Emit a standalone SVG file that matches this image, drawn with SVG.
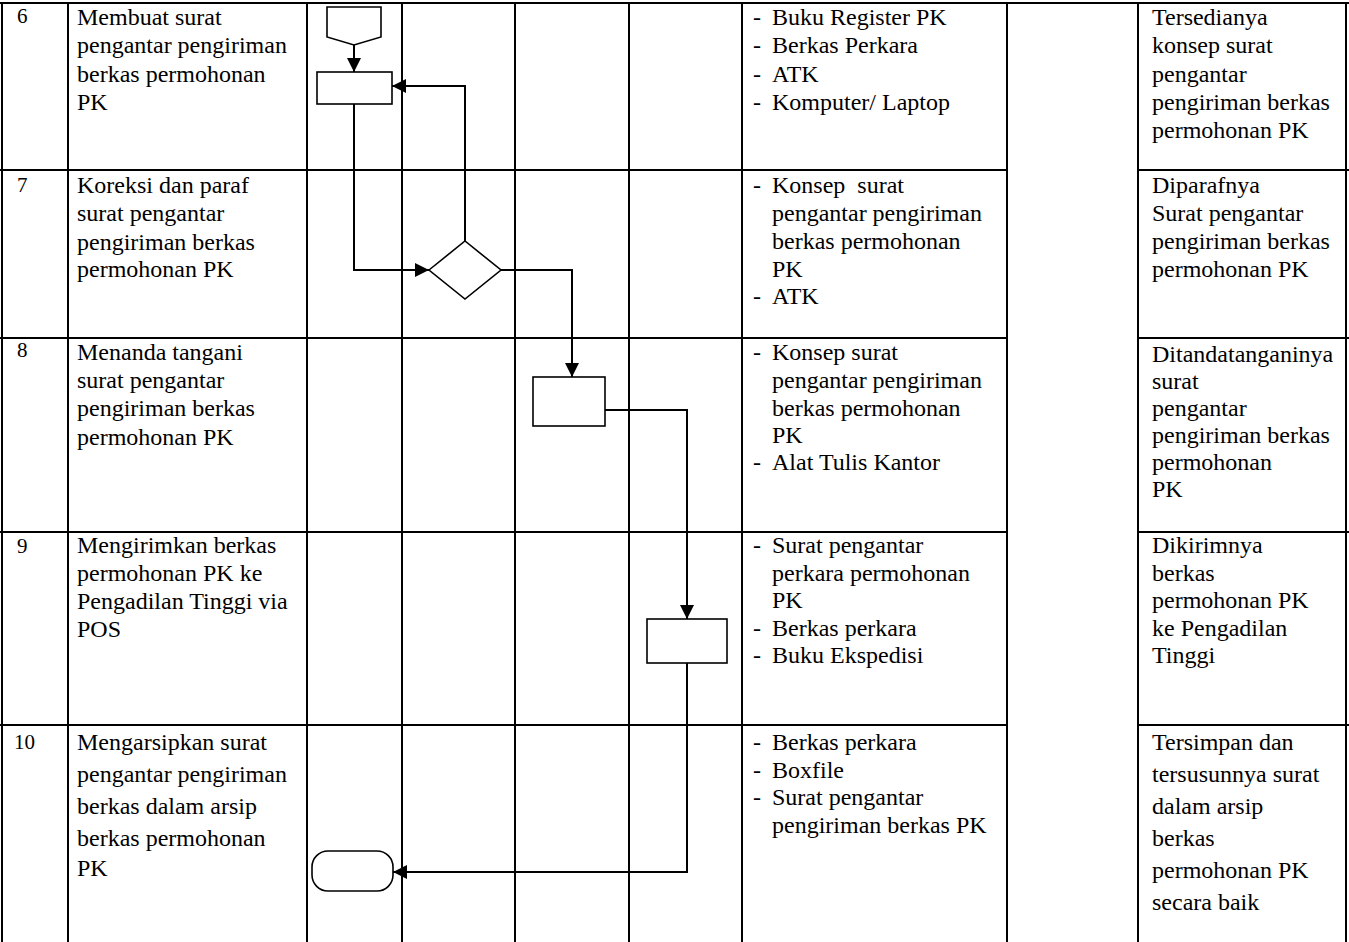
<svg xmlns="http://www.w3.org/2000/svg" width="1349" height="942" viewBox="0 0 1349 942">
<style>
.grid line{stroke:#000;stroke-width:2}
.shape{fill:#fff;stroke:#000;stroke-width:1.6}
.conn{fill:none;stroke:#000;stroke-width:2;marker-end:url(#ah)}
text{font-family:"Liberation Serif","Times New Roman",serif;font-size:24px;fill:#000}
text.num{font-size:21px}
</style>
<defs>
<marker id="ah" markerUnits="userSpaceOnUse" markerWidth="14" markerHeight="14" refX="14" refY="7" orient="auto"><path d="M0,0 L14,7 L0,14 z" fill="#000"/></marker>
</defs>
<rect x="0" y="0" width="1349" height="942" fill="#fff"/>
<g id="grid" class="grid">
<line x1="0" y1="3" x2="1349" y2="3"/>
<line x1="0" y1="170" x2="1007" y2="170"/><line x1="1138" y1="170" x2="1349" y2="170"/>
<line x1="0" y1="338" x2="1007" y2="338"/><line x1="1138" y1="338" x2="1349" y2="338"/>
<line x1="0" y1="532" x2="1007" y2="532"/><line x1="1138" y1="532" x2="1349" y2="532"/>
<line x1="0" y1="725" x2="1007" y2="725"/><line x1="1138" y1="725" x2="1349" y2="725"/>
<line x1="2" y1="2" x2="2" y2="942"/>
<line x1="68" y1="2" x2="68" y2="942"/>
<line x1="307" y1="2" x2="307" y2="942"/>
<line x1="402" y1="2" x2="402" y2="942"/>
<line x1="515" y1="2" x2="515" y2="942"/>
<line x1="629" y1="2" x2="629" y2="942"/>
<line x1="742" y1="2" x2="742" y2="942"/>
<line x1="1007" y1="2" x2="1007" y2="942"/>
<line x1="1138" y1="2" x2="1138" y2="942"/>
<line x1="1346" y1="2" x2="1346" y2="942"/>
</g>
<g id="row6">
<text class="num" x="17" y="23">6</text>
<text><tspan x="77" y="25">Membuat surat</tspan><tspan x="77" y="53.3">pengantar pengiriman</tspan><tspan x="77" y="81.6">berkas permohonan</tspan><tspan x="77" y="110">PK</tspan></text>
<text><tspan x="753" y="25">-</tspan><tspan x="772" y="25">Buku Register PK</tspan><tspan x="753" y="53.3">-</tspan><tspan x="772" y="53.3">Berkas Perkara</tspan><tspan x="753" y="81.6">-</tspan><tspan x="772" y="81.6">ATK</tspan><tspan x="753" y="110">-</tspan><tspan x="772" y="110">Komputer/ Laptop</tspan></text>
<text><tspan x="1152" y="25">Tersedianya</tspan><tspan x="1152" y="53.3">konsep surat</tspan><tspan x="1152" y="81.6">pengantar</tspan><tspan x="1152" y="110">pengiriman berkas</tspan><tspan x="1152" y="138.2">permohonan PK</tspan></text>
</g>
<g id="row7">
<text class="num" x="17" y="192">7</text>
<text><tspan x="77" y="193">Koreksi dan paraf</tspan><tspan x="77" y="221.3">surat pengantar</tspan><tspan x="77" y="249.6">pengiriman berkas</tspan><tspan x="77" y="277">permohonan PK</tspan></text>
<text><tspan x="753" y="193">-</tspan><tspan x="772" y="193">Konsep&#160; surat</tspan><tspan x="772" y="221">pengantar pengiriman</tspan><tspan x="772" y="249">berkas permohonan</tspan><tspan x="772" y="276.5">PK</tspan><tspan x="753" y="304">-</tspan><tspan x="772" y="304">ATK</tspan></text>
<text><tspan x="1152" y="193">Diparafnya</tspan><tspan x="1152" y="221">Surat pengantar</tspan><tspan x="1152" y="249">pengiriman berkas</tspan><tspan x="1152" y="277">permohonan PK</tspan></text>
</g>
<g id="row8">
<text class="num" x="17" y="357">8</text>
<text><tspan x="77" y="360">Menanda tangani</tspan><tspan x="77" y="388">surat pengantar</tspan><tspan x="77" y="416">pengiriman berkas</tspan><tspan x="77" y="444.5">permohonan PK</tspan></text>
<text><tspan x="753" y="360">-</tspan><tspan x="772" y="360">Konsep surat</tspan><tspan x="772" y="388">pengantar pengiriman</tspan><tspan x="772" y="415.5">berkas permohonan</tspan><tspan x="772" y="443">PK</tspan><tspan x="753" y="470">-</tspan><tspan x="772" y="470">Alat Tulis Kantor</tspan></text>
<text><tspan x="1152" y="362">Ditandatanganinya</tspan><tspan x="1152" y="389">surat</tspan><tspan x="1152" y="416">pengantar</tspan><tspan x="1152" y="443">pengiriman berkas</tspan><tspan x="1152" y="470">permohonan</tspan><tspan x="1152" y="497">PK</tspan></text>
</g>
<g id="row9">
<text class="num" x="17" y="553">9</text>
<text><tspan x="77" y="553">Mengirimkan berkas</tspan><tspan x="77" y="581">permohonan PK ke</tspan><tspan x="77" y="609">Pengadilan Tinggi via</tspan><tspan x="77" y="637">POS</tspan></text>
<text><tspan x="753" y="553">-</tspan><tspan x="772" y="553">Surat pengantar</tspan><tspan x="772" y="581">perkara permohonan</tspan><tspan x="772" y="608">PK</tspan><tspan x="753" y="636">-</tspan><tspan x="772" y="636">Berkas perkara</tspan><tspan x="753" y="663">-</tspan><tspan x="772" y="663">Buku Ekspedisi</tspan></text>
<text><tspan x="1152" y="553">Dikirimnya</tspan><tspan x="1152" y="581">berkas</tspan><tspan x="1152" y="608">permohonan PK</tspan><tspan x="1152" y="636">ke Pengadilan</tspan><tspan x="1152" y="663">Tinggi</tspan></text>
</g>
<g id="row10">
<text class="num" x="14" y="749">10</text>
<text><tspan x="77" y="750">Mengarsipkan surat</tspan><tspan x="77" y="782">pengantar pengiriman</tspan><tspan x="77" y="814">berkas dalam arsip</tspan><tspan x="77" y="846">berkas permohonan</tspan><tspan x="77" y="876">PK</tspan></text>
<text><tspan x="753" y="750">-</tspan><tspan x="772" y="750">Berkas perkara</tspan><tspan x="753" y="778">-</tspan><tspan x="772" y="778">Boxfile</tspan><tspan x="753" y="805">-</tspan><tspan x="772" y="805">Surat pengantar</tspan><tspan x="772" y="833">pengiriman berkas PK</tspan></text>
<text><tspan x="1152" y="750">Tersimpan dan</tspan><tspan x="1152" y="782">tersusunnya surat</tspan><tspan x="1152" y="814">dalam arsip</tspan><tspan x="1152" y="846">berkas</tspan><tspan x="1152" y="878">permohonan PK</tspan><tspan x="1152" y="910">secara baik</tspan></text>
</g>
<g id="connectors">
<path class="conn" d="M354,45 L354,72"/>
<path class="conn" d="M354,104 L354,270 L429,270"/>
<path class="conn" d="M465,241 L465,86 L392,86"/>
<path class="conn" d="M501,270 L572,270 L572,377"/>
<path class="conn" d="M605,410 L687,410 L687,619"/>
<path class="conn" d="M687,663 L687,872 L393,872"/>
</g>
<g id="start"><polygon class="shape" points="327,7 381,7 381,37 354,45 327,37"/></g>
<g id="step6"><rect class="shape" x="317" y="72" width="75" height="32"/></g>
<g id="decision7"><polygon class="shape" points="429,270 465,241 501,270 465,299"/></g>
<g id="step8"><rect class="shape" x="533" y="377" width="72" height="49"/></g>
<g id="step9"><rect class="shape" x="647" y="619" width="80" height="44"/></g>
<g id="end"><rect class="shape" x="312" y="851" width="81" height="40" rx="16" ry="16"/></g>
</svg>
